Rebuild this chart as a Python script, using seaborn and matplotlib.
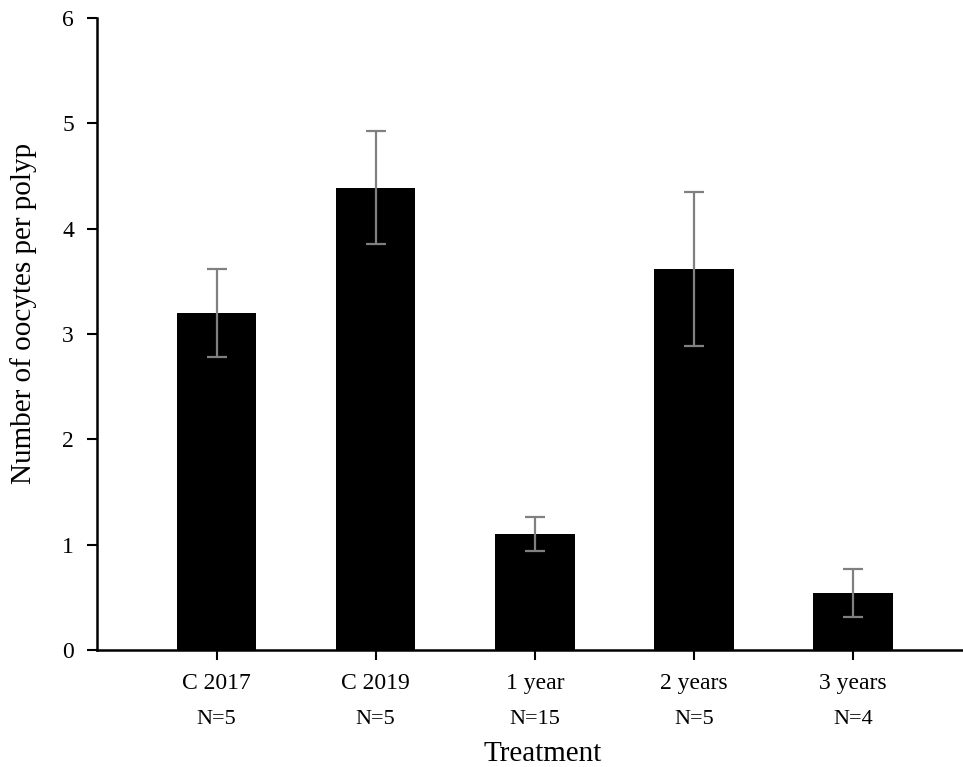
import matplotlib
matplotlib.use("Agg")
import matplotlib.pyplot as plt
import matplotlib.transforms as mtransforms
import seaborn as sns
import pandas as pd

# Mean number of oocytes per polyp by treatment, with standard errors
treatments = ["C 2017", "C 2019", "1 year", "2 years", "3 years"]
sample_sizes = ["N=5", "N=5", "N=15", "N=5", "N=4"]
mean_oocytes = [3.20, 4.39, 1.10, 3.62, 0.54]
std_error = [0.42, 0.54, 0.16, 0.73, 0.23]
y_ticks = [0, 1, 2, 3, 4, 5, 6]

df = pd.DataFrame({"Treatment": treatments, "Oocytes": mean_oocytes})

sns.set_style("ticks")
plt.rcParams["font.family"] = ["Liberation Serif", "DejaVu Serif"]

W, H, DPI = 963, 767, 100
fig = plt.figure(figsize=(W / DPI, H / DPI), dpi=DPI)
ax = fig.add_axes([97 / W, (H - 650) / H, (W - 97) / W, (650 - 18) / H])

sns.barplot(data=df, x="Treatment", y="Oocytes", color="black", saturation=1,
            width=0.5, errorbar=None, linewidth=0, ax=ax, zorder=2)

ax.errorbar(range(len(treatments)), mean_oocytes, yerr=std_error, fmt="none",
            ecolor="#808080", elinewidth=1.6, capsize=7.2, capthick=1.6, zorder=3)

ax.set_ylim(0, 6)
ax.set_xlim(-0.751, 4.69)
ax.set_yticks(y_ticks)
ax.set_yticklabels([str(t) for t in y_ticks])

for side in ("top", "right"):
    ax.spines[side].set_visible(False)
for side in ("left", "bottom"):
    ax.spines[side].set_linewidth(1.8)
    ax.spines[side].set_color("black")

ax.tick_params(axis="y", direction="out", length=7.5, width=1.5, pad=9,
               labelsize=17, colors="black")
ax.tick_params(axis="x", direction="out", length=7.5, width=1.5, pad=9,
               labelsize=17, colors="black")

# Sample size line under each category label
trans = mtransforms.blended_transform_factory(ax.transData, ax.transAxes)
for i, n in enumerate(sample_sizes):
    ax.text(i, -(724 - 650) / 632, n, transform=trans, ha="center",
            va="baseline", fontsize=16, color="black")

ax.set_xlabel("Treatment", fontsize=21, color="black")
ax.xaxis.label.set_va("baseline")
ax.xaxis.set_label_coords((543 - 97) / 866, -(761 - 650) / 632)

ax.set_ylabel("Number of oocytes per polyp", fontsize=21, color="black")
ax.yaxis.label.set_va("center")
ax.yaxis.set_label_coords((24 - 97) / 866, (650 - 313) / 632)

ax.set_facecolor("white")
fig.patch.set_facecolor("white")
fig.savefig("out.png", dpi=DPI)
